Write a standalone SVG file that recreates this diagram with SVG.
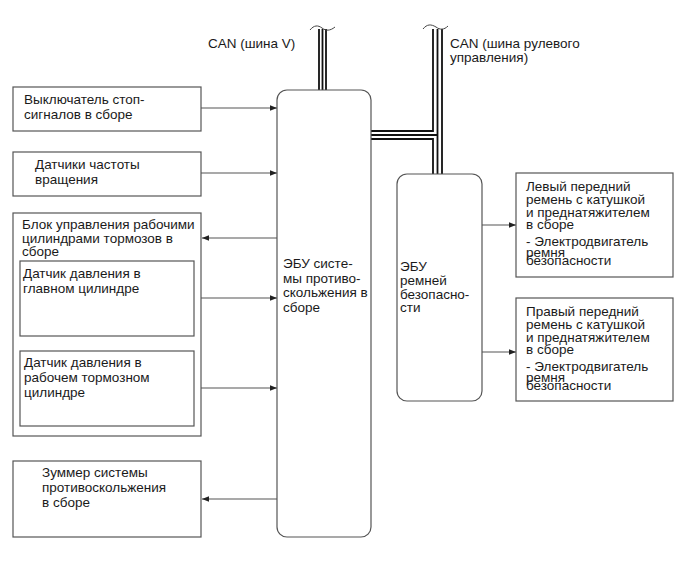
<svg xmlns="http://www.w3.org/2000/svg" width="689" height="562" viewBox="0 0 689 562">
<style>
text{font-family:"Liberation Sans",Arial,sans-serif;font-size:13.5px;fill:#1a1a1a}
.box{fill:#fff;stroke:#555;stroke-width:1.2}
.ecu{fill:#fff;stroke:#555;stroke-width:1.2}
.arr{fill:none;stroke:#555;stroke-width:1.2;marker-end:url(#ah)}
.bus{fill:none;stroke:#111;stroke-width:1.8}
.sq{fill:none;stroke:#444;stroke-width:1}
</style>
<defs>
<marker id="ah" viewBox="0 0 10 8" refX="10" refY="4" markerWidth="7" markerHeight="5.6" markerUnits="userSpaceOnUse" orient="auto">
<path d="M0,0 L10,4 L0,8 Z" fill="#222"/>
</marker>
</defs>
<rect width="689" height="562" fill="#fff"/>
<g id="connectors">
<path class="bus" d="M319,29 V90 M322.5,29 V90 M326,29 V90"/>
<path class="sq" d="M310,30 C314,25 318,25 322,28 C326,31 330,31 335,27"/>
<path class="bus" d="M433,29 V131 H371 M371,139 H433 V174 M371,135 H437.5 M437.5,29 V174 M442,29 V174"/>
<path class="sq" d="M423,29 C427,24 431,24 436,27 C440,30 444,30 448,26"/>
<path class="arr" d="M201,108 H277"/>
<path class="arr" d="M201,173 H277"/>
<path class="arr" d="M277,238 H202"/>
<path class="arr" d="M194,298 H277"/>
<path class="arr" d="M194,388 H277"/>
<path class="arr" d="M277,499 H202"/>
<path class="arr" d="M482,225 H516"/>
<path class="arr" d="M482,352 H516"/>
</g>
<text x="208" y="48">CAN (шина V)</text>
<text x="450" y="48">CAN (шина рулевого</text>
<text x="450" y="62">управления)</text>
<g id="stop-switch">
<rect class="box" x="13" y="87" width="188" height="44"/>
<text x="24" y="104">Выключатель стоп-</text>
<text x="24" y="119">сигналов в сборе</text>
</g>
<g id="speed-sensors">
<rect class="box" x="13" y="152" width="188" height="44"/>
<text x="35" y="169">Датчики частоты</text>
<text x="35" y="184">вращения</text>
</g>
<g id="brake-actuator">
<rect class="box" x="13" y="213" width="188" height="223"/>
<text x="22" y="229">Блок управления рабочими</text>
<text x="22" y="242.5">цилиндрами тормозов в</text>
<text x="22" y="256">сборе</text>
</g>
<g id="master-cyl-sensor">
<rect class="box" x="20" y="261" width="174" height="75"/>
<text x="23" y="278">Датчик давления в</text>
<text x="23" y="293">главном цилиндре</text>
</g>
<g id="wheel-cyl-sensor">
<rect class="box" x="20" y="351" width="174" height="75"/>
<text x="24" y="367">Датчик давления в</text>
<text x="24" y="382">рабочем тормозном</text>
<text x="24" y="397">цилиндре</text>
</g>
<g id="buzzer">
<rect class="box" x="13" y="461" width="188" height="76"/>
<text x="42" y="477">Зуммер системы</text>
<text x="42" y="492">противоскольжения</text>
<text x="42" y="507">в сборе</text>
</g>
<g id="skid-ecu">
<rect class="ecu" x="277" y="90" width="94" height="447" rx="10"/>
<text x="283" y="268">ЭБУ систе-</text>
<text x="283" y="282.5">мы противо-</text>
<text x="283" y="297">скольжения в</text>
<text x="283" y="311.5">сборе</text>
</g>
<g id="seatbelt-ecu">
<rect class="ecu" x="397" y="174" width="85" height="227" rx="10"/>
<text x="400" y="271">ЭБУ</text>
<text x="400" y="285">ремней</text>
<text x="400" y="298.5">безопасно-</text>
<text x="400" y="312">сти</text>
</g>
<g id="left-belt">
<rect class="box" x="516" y="173" width="157" height="104"/>
<text x="526" y="191">Левый передний</text>
<text x="526" y="204">ремень с катушкой</text>
<text x="526" y="216.5">и преднатяжителем</text>
<text x="526" y="228.5">в сборе</text>
<text x="526" y="245.5">- Электродвигатель</text>
<text x="526" y="256.5">ремня</text>
<text x="526" y="265">безопасности</text>
</g>
<g id="right-belt">
<rect class="box" x="516" y="298" width="157" height="103"/>
<text x="526" y="316">Правый передний</text>
<text x="526" y="329">ремень с катушкой</text>
<text x="526" y="341.5">и преднатяжителем</text>
<text x="526" y="353.5">в сборе</text>
<text x="526" y="370.5">- Электродвигатель</text>
<text x="526" y="381.5">ремня</text>
<text x="526" y="390">безопасности</text>
</g>
</svg>
